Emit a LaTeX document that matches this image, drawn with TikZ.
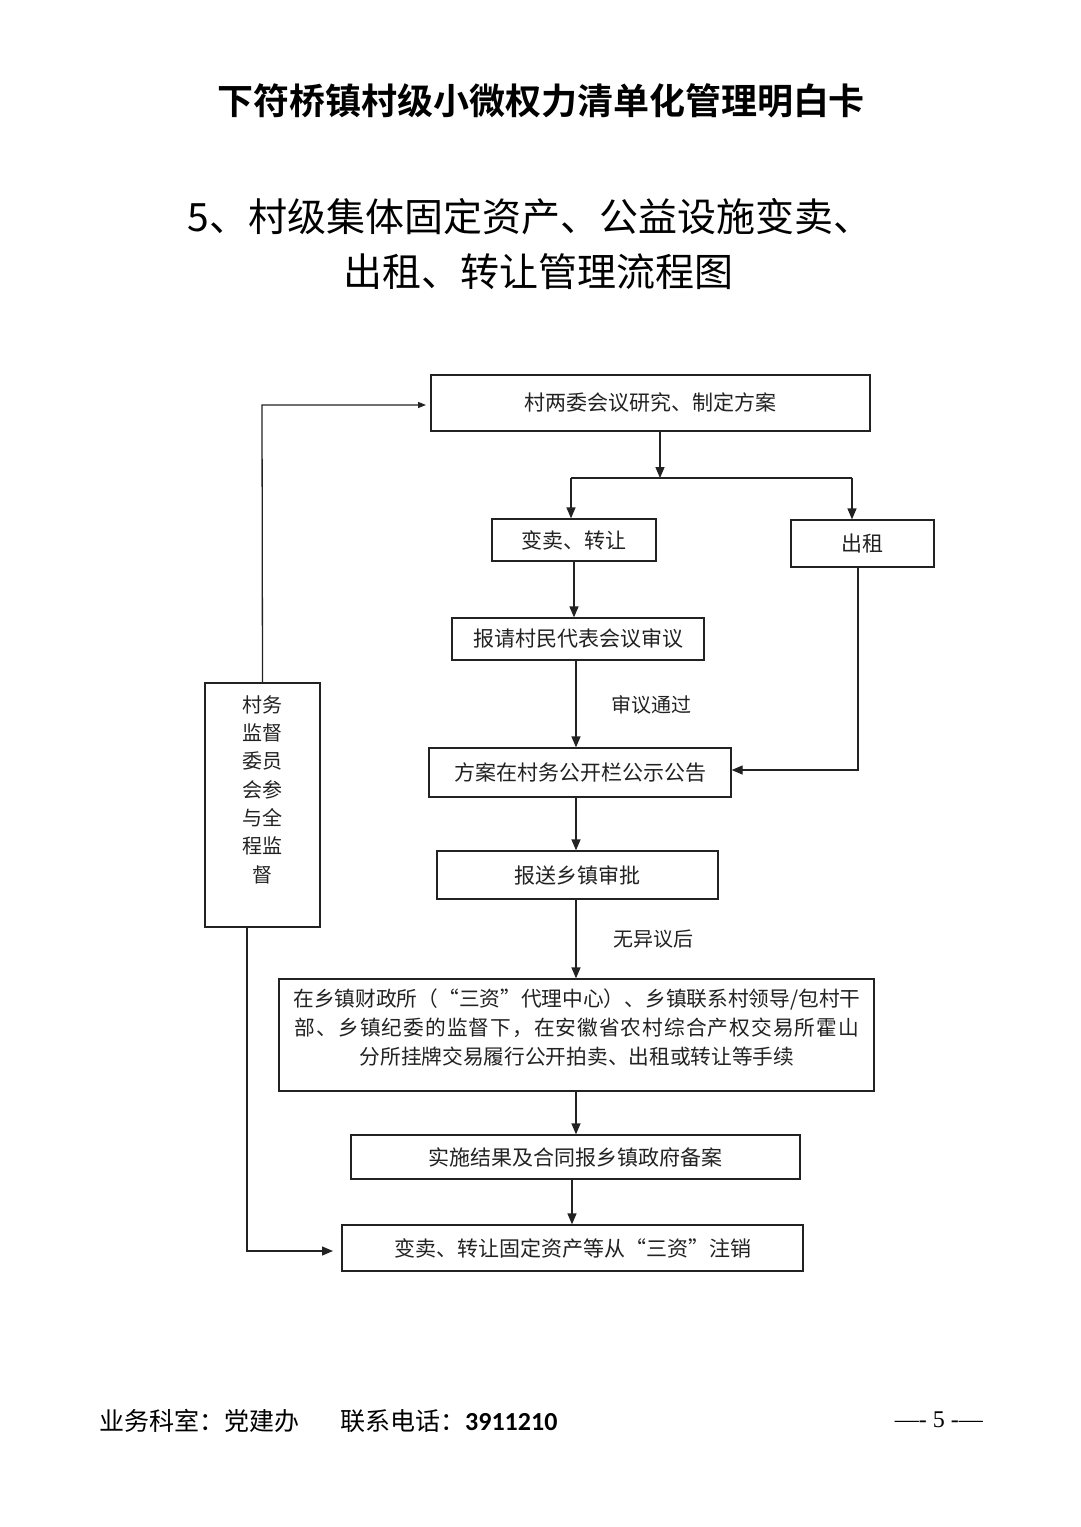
\documentclass[tikz,border=0pt]{standalone}
\usepackage{fontspec}
\setmainfont{Liberation Serif}
\newfontfamily\cjk{Noto Sans CJK SC}
\newfontfamily\cjkbold{Noto Sans CJK SC Bold}
\newfontfamily\carl{Carlito}
\usetikzlibrary{arrows.meta}
\definecolor{ink}{HTML}{222222}
\begin{document}
\begin{tikzpicture}[x=1pt,y=-1pt,
  box/.style={draw=ink, line width=1.3pt, inner sep=0pt, text=ink,
    font=\cjk\fontsize{21}{29}\selectfont},
  lbl/.style={inner sep=0pt, text=ink, font=\cjk\fontsize{20}{28}\selectfont},
  conn/.style={draw=ink, line width=1.3pt},
  arr/.style={conn, -{Triangle[length=11pt,width=9pt]}},
  arrs/.style={conn, -{Triangle[length=8pt,width=6pt]}}]
\fill[white] (0,0) rectangle (1080,1527);
\useasboundingbox (0,0) rectangle (1080,1527);

% titles
\node[inner sep=0pt, font=\cjkbold\fontsize{36}{40}\selectfont] (title) at (541,101) {下符桥镇村级小微权力清单化管理明白卡};
\node[inner sep=0pt, font=\cjk\fontsize{39}{44}\selectfont] (sub1) at (530,217) {5、村级集体固定资产、公益设施变卖、};
\node[inner sep=0pt, font=\cjk\fontsize{39}{44}\selectfont] (sub2) at (538,272) {出租、转让管理流程图};

% boxes
\node[box, minimum width=439pt, minimum height=56pt] (b1) at (650.5,403) {村两委会议研究、制定方案};
\node[box, minimum width=164pt, minimum height=42pt] (b2) at (574,540) {变卖、转让};
\node[box, minimum width=143pt, minimum height=47pt] (b3) at (862.5,543.5) {出租};
\node[box, minimum width=252pt, minimum height=42pt] (b4) at (578,639) {报请村民代表会议审议};
\node[box, minimum width=302pt, minimum height=49pt] (b5) at (580,772.5) {方案在村务公开栏公示公告};
\node[box, minimum width=281pt, minimum height=48pt] (b6) at (577.5,875) {报送乡镇审批};
\node[box, minimum width=595pt, minimum height=112pt] (b7) at (576.5,1035) {};
\node[lbl, align=center, font=\cjk\fontsize{20.7}{29}\selectfont] (b7t) at (577,1028)
  {在乡镇财政所（“三资”代理中心）、乡镇联系村领导/包村干\\{\addfontfeatures{LetterSpace=5}部、乡镇纪委的监督下，在安徽省农村综合产权交易所霍山}\\分所挂牌交易履行公开拍卖、出租或转让等手续};
\node[box, minimum width=449pt, minimum height=44pt] (b8) at (575.5,1157) {实施结果及合同报乡镇政府备案};
\node[box, minimum width=461pt, minimum height=46pt] (b9) at (572.5,1248) {变卖、转让固定资产等从“三资”注销};
\node[box, minimum width=115pt, minimum height=244pt] (lb) at (262.5,805) {};
\node[lbl, align=center, font=\cjk\fontsize{20}{28.3}\selectfont] (lbt) at (262,789.5)
  {村务\\监督\\委员\\会参\\与全\\程监\\督};

% labels
\node[lbl] (l1) at (651,705) {审议通过};
\node[lbl] (l2) at (653,939) {无异议后};

% connectors
\coordinate (j) at (660,478);
\coordinate (jl) at (571,478);
\coordinate (jr) at (852,478);
\draw[arr] (j |- b1.south) -- (j);
\draw[conn] (jl) -- (jr);
\draw[arr] (jl) -- (jl |- b2.north);
\draw[arr] (jr) -- (jr |- b3.north);
\draw[arr] (b2.south) -- (b2.south |- b4.north);
\coordinate (c4) at (576,0);
\draw[arr] (c4 |- b4.south) -- (c4 |- b5.north);
\coordinate (c3) at (858,770);
\draw[arr] (c3 |- b3.south) -- (c3) -- (b5.east |- c3);
\draw[arr] (c4 |- b5.south) -- (c4 |- b6.north);
\draw[arr] (c4 |- b6.south) -- (c4 |- b7.north);
\draw[arr] (c4 |- b7.south) -- (c4 |- b8.north);
\coordinate (c8) at (572,0);
\draw[arr] (c8 |- b8.south) -- (c8 |- b9.north);
\coordinate (t1) at (262,405);
\coordinate (t1e) at (426,405);
\draw[arrs] (lb.north) -- (t1) -- (t1e);
\coordinate (t2) at (247,1251);
\coordinate (t2e) at (333,1251);
\draw[arr] (t2 |- lb.south) -- (t2) -- (t2e);

% footer
\node[inner sep=0pt, anchor=west, font=\cjk\fontsize{25}{28}\selectfont] (f1) at (99,1421) {业务科室：党建办};
\node[inner sep=0pt, anchor=west, font=\cjk\fontsize{25}{28}\selectfont] (f2) at (340,1421) {联系电话：{\carl\bfseries\fontsize{26}{28}\selectfont 3911210}};
\node[inner sep=0pt, anchor=east, font=\fontsize{24}{28}\selectfont] (f3) at (983,1420) {—- 5 -—};
\end{tikzpicture}
\end{document}
